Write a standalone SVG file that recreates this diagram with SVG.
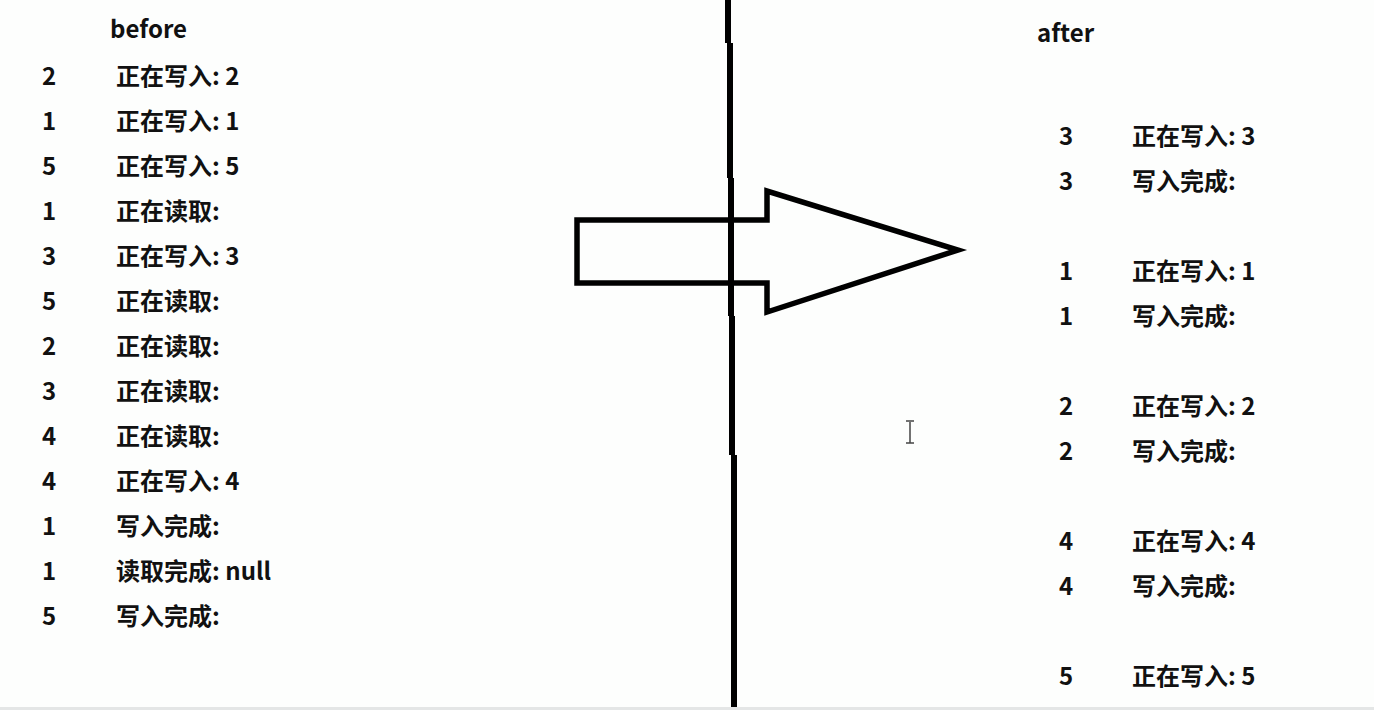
<svg xmlns="http://www.w3.org/2000/svg" width="1374" height="710" viewBox="0 0 1374 710">
<style>
text{font-family:"Noto Sans CJK SC","Microsoft YaHei",sans-serif;font-weight:bold;font-size:24px;fill:#111}
.ln{stroke:#000;stroke-width:6;fill:none}
</style>
<rect width="1374" height="710" fill="#fdfefd"/>
<rect x="0" y="707" width="1374" height="3" fill="#e4e6e6"/>
<g id="divider">
<path class="ln" d="M728 0V43M730 43V178M731 178V316M732 316V455M734 455V707"/>
</g>
<g id="arrow">
<path d="M577 220H767V191L958 250L767 312V283H577Z" fill="none" stroke="#000" stroke-width="5.5" stroke-linejoin="miter"/>
<path class="ln" d="M731 178V316"/>
</g>
<g id="before">
<text x="110" y="38">before</text>
<text x="42" y="85">2</text><text x="116" y="85">正在写入: 2</text>
<text x="42" y="130">1</text><text x="116" y="130">正在写入: 1</text>
<text x="42" y="175">5</text><text x="116" y="175">正在写入: 5</text>
<text x="42" y="220">1</text><text x="116" y="220">正在读取:</text>
<text x="42" y="265">3</text><text x="116" y="265">正在写入: 3</text>
<text x="42" y="310">5</text><text x="116" y="310">正在读取:</text>
<text x="42" y="355">2</text><text x="116" y="355">正在读取:</text>
<text x="42" y="400">3</text><text x="116" y="400">正在读取:</text>
<text x="42" y="445">4</text><text x="116" y="445">正在读取:</text>
<text x="42" y="490">4</text><text x="116" y="490">正在写入: 4</text>
<text x="42" y="535">1</text><text x="116" y="535">写入完成:</text>
<text x="42" y="580">1</text><text x="116" y="580">读取完成: null</text>
<text x="42" y="625">5</text><text x="116" y="625">写入完成:</text>
</g>
<g id="after">
<text x="1037" y="42">after</text>
<text x="1059" y="145">3</text><text x="1132" y="145">正在写入: 3</text>
<text x="1059" y="190">3</text><text x="1132" y="190">写入完成:</text>
<text x="1059" y="280">1</text><text x="1132" y="280">正在写入: 1</text>
<text x="1059" y="325">1</text><text x="1132" y="325">写入完成:</text>
<text x="1059" y="415">2</text><text x="1132" y="415">正在写入: 2</text>
<text x="1059" y="460">2</text><text x="1132" y="460">写入完成:</text>
<text x="1059" y="550">4</text><text x="1132" y="550">正在写入: 4</text>
<text x="1059" y="595">4</text><text x="1132" y="595">写入完成:</text>
<text x="1059" y="685">5</text><text x="1132" y="685">正在写入: 5</text>
</g>
<g id="cursor" stroke="#444" stroke-width="1.5" fill="none">
<path d="M910 422V443M906 421H914M906 443H914"/>
</g>
</svg>
